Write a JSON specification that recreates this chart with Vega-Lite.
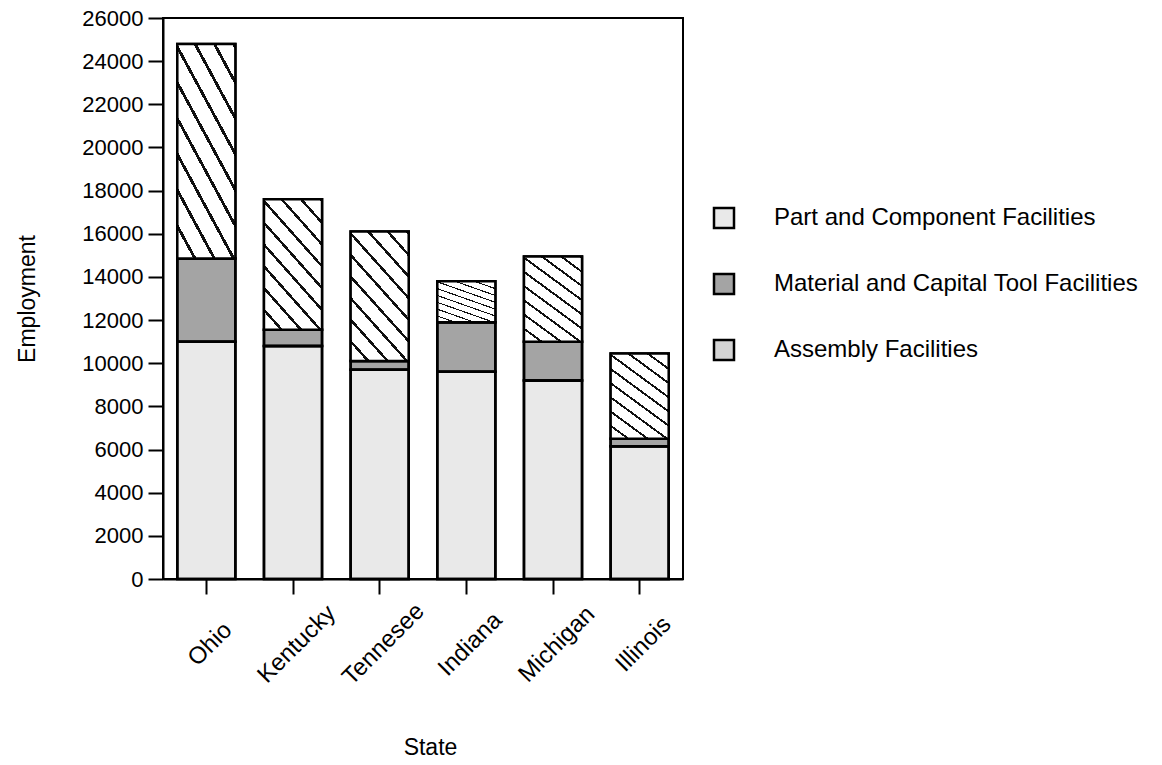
{
  "$schema": "https://vega.github.io/schema/vega-lite/v6.json",
  "width": 520,
  "height": 561,
  "autosize": "none",
  "padding": {"left": 163, "top": 18, "right": 479, "bottom": 186},
  "background": "white",
  "config": {
    "font": "Liberation Sans",
    "view": {"stroke": "black", "strokeWidth": 2},
    "axis": {"grid": false, "domainColor": "black", "domainWidth": 2, "tickColor": "black", "tickWidth": 2, "tickSize": 15, "labelColor": "black", "titleColor": "black", "labelFontSize": 22, "titleFontSize": 23, "titleFontWeight": "normal", "labelFont": "Liberation Sans", "titleFont": "Liberation Sans"}
  },
  "data": {
    "values": [
      {"state": "Ohio", "type": "Part and Component Facilities", "k": 1, "employment": 11000},
      {"state": "Ohio", "type": "Material and Capital Tool Facilities", "k": 2, "employment": 3850},
      {"state": "Ohio", "type": "Assembly Facilities", "k": 3, "employment": 9950},
      {"state": "Kentucky", "type": "Part and Component Facilities", "k": 1, "employment": 10800},
      {"state": "Kentucky", "type": "Material and Capital Tool Facilities", "k": 2, "employment": 750},
      {"state": "Kentucky", "type": "Assembly Facilities", "k": 3, "employment": 6050},
      {"state": "Tennesee", "type": "Part and Component Facilities", "k": 1, "employment": 9700},
      {"state": "Tennesee", "type": "Material and Capital Tool Facilities", "k": 2, "employment": 400},
      {"state": "Tennesee", "type": "Assembly Facilities", "k": 3, "employment": 6000},
      {"state": "Indiana", "type": "Part and Component Facilities", "k": 1, "employment": 9600},
      {"state": "Indiana", "type": "Material and Capital Tool Facilities", "k": 2, "employment": 2300},
      {"state": "Indiana", "type": "Assembly Facilities", "k": 3, "employment": 1900},
      {"state": "Michigan", "type": "Part and Component Facilities", "k": 1, "employment": 9200},
      {"state": "Michigan", "type": "Material and Capital Tool Facilities", "k": 2, "employment": 1800},
      {"state": "Michigan", "type": "Assembly Facilities", "k": 3, "employment": 3950},
      {"state": "Illinois", "type": "Part and Component Facilities", "k": 1, "employment": 6150},
      {"state": "Illinois", "type": "Material and Capital Tool Facilities", "k": 2, "employment": 350},
      {"state": "Illinois", "type": "Assembly Facilities", "k": 3, "employment": 3950}
    ]
  },
  "encoding": {
    "x": {
      "field": "state", "type": "nominal",
      "sort": ["Ohio", "Kentucky", "Tennesee", "Indiana", "Michigan", "Illinois"],
      "scale": {"paddingInner": 0.33, "paddingOuter": 0.165},
      "axis": {"title": "State", "labelAngle": -45, "labelAlign": "center", "labelBaseline": "middle", "labelPadding": 50, "labelOffset": 4, "labelFontSize": 24, "titleX": 267, "titleY": 168, "titleBaseline": "middle"}
    },
    "y": {
      "field": "employment", "type": "quantitative", "stack": "zero",
      "scale": {"domain": [0, 26000], "nice": false},
      "axis": {"title": "Employment", "values": [0,2000,4000,6000,8000,10000,12000,14000,16000,18000,20000,22000,24000,26000], "format": "d", "labelPadding": 5, "titleX": -136, "titleBaseline": "middle"}
    },
    "order": {"field": "k", "type": "quantitative"}
  },
  "layer": [
    {
      "mark": {"type": "bar", "stroke": "black", "strokeWidth": 2.5, "opacity": 1},
      "encoding": {
        "color": {
          "field": "type", "type": "nominal",
          "scale": {
            "domain": ["Part and Component Facilities", "Material and Capital Tool Facilities", "Assembly Facilities"],
            "range": ["#e9e9e9", "#a4a4a4", "#d4d4d4"]
          },
          "legend": {
            "title": null, "orient": "none", "legendX": 549, "legendY": 188,
            "symbolType": "square", "symbolSize": 400, "symbolStrokeColor": "black", "symbolStrokeWidth": 2.5, "symbolOpacity": 1,
            "labelFontSize": 24, "labelFont": "Liberation Sans", "labelColor": "black", "labelOffset": 38, "rowPadding": 36, "labelLimit": 500
          }
        }
      }
    },
    {
      "mark": {"type": "bar", "stroke": "black", "strokeWidth": 2.5, "opacity": 1},
      "encoding": {
        "fill": {
          "condition": {
            "test": "datum.type === 'Assembly Facilities'",
            "value": {"gradient": "linear", "x1": 0, "y1": 1, "x2": 0.6, "y2": -0.2, "stops": [
              {"offset": 0, "color": "white"}, {"offset": 0.0922, "color": "white"}, {"offset": 0.0922, "color": "#111"}, {"offset": 0.1111, "color": "#111"},
              {"offset": 0.1111, "color": "white"}, {"offset": 0.2033, "color": "white"}, {"offset": 0.2033, "color": "#111"}, {"offset": 0.2222, "color": "#111"},
              {"offset": 0.2222, "color": "white"}, {"offset": 0.3144, "color": "white"}, {"offset": 0.3144, "color": "#111"}, {"offset": 0.3333, "color": "#111"},
              {"offset": 0.3333, "color": "white"}, {"offset": 0.4255, "color": "white"}, {"offset": 0.4255, "color": "#111"}, {"offset": 0.4444, "color": "#111"},
              {"offset": 0.4444, "color": "white"}, {"offset": 0.5366, "color": "white"}, {"offset": 0.5366, "color": "#111"}, {"offset": 0.5556, "color": "#111"},
              {"offset": 0.5556, "color": "white"}, {"offset": 0.6478, "color": "white"}, {"offset": 0.6478, "color": "#111"}, {"offset": 0.6667, "color": "#111"},
              {"offset": 0.6667, "color": "white"}, {"offset": 0.7589, "color": "white"}, {"offset": 0.7589, "color": "#111"}, {"offset": 0.7778, "color": "#111"},
              {"offset": 0.7778, "color": "white"}, {"offset": 0.87, "color": "white"}, {"offset": 0.87, "color": "#111"}, {"offset": 0.8889, "color": "#111"},
              {"offset": 0.8889, "color": "white"}, {"offset": 0.9811, "color": "white"}, {"offset": 0.9811, "color": "#111"}, {"offset": 1, "color": "#111"}
            ]}
          },
          "value": "transparent"
        }
      }
    }
  ]
}
